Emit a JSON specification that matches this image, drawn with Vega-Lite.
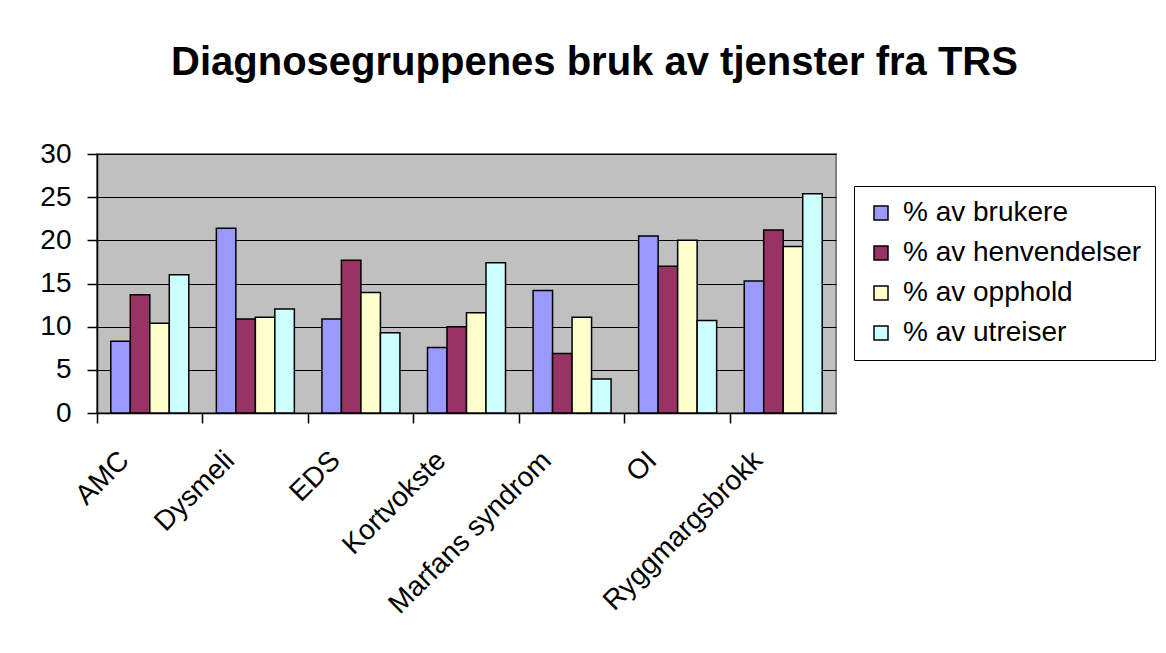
{
  "$schema": "https://vega.github.io/schema/vega-lite/v6.json",
  "autosize": {"type": "none"},
  "padding": {"left": 97, "top": 154, "right": 330, "bottom": 240},
  "width": 739,
  "height": 259,
  "background": "white",
  "title": {
    "text": "Diagnosegruppenes bruk av tjenster fra TRS",
    "font": "Liberation Sans",
    "fontSize": 40,
    "fontWeight": "bold",
    "color": "black",
    "anchor": "middle",
    "frame": "group",
    "baseline": "alphabetic",
    "dx": 128,
    "offset": 25
  },
  "data": {
    "values": [
      {"gruppe": "AMC", "serie": "% av brukere", "verdi": 8.3},
      {"gruppe": "AMC", "serie": "% av henvendelser", "verdi": 13.7},
      {"gruppe": "AMC", "serie": "% av opphold", "verdi": 10.4},
      {"gruppe": "AMC", "serie": "% av utreiser", "verdi": 16.0},
      {"gruppe": "Dysmeli", "serie": "% av brukere", "verdi": 21.4},
      {"gruppe": "Dysmeli", "serie": "% av henvendelser", "verdi": 10.9},
      {"gruppe": "Dysmeli", "serie": "% av opphold", "verdi": 11.1},
      {"gruppe": "Dysmeli", "serie": "% av utreiser", "verdi": 12.05},
      {"gruppe": "EDS", "serie": "% av brukere", "verdi": 10.9},
      {"gruppe": "EDS", "serie": "% av henvendelser", "verdi": 17.7},
      {"gruppe": "EDS", "serie": "% av opphold", "verdi": 13.95},
      {"gruppe": "EDS", "serie": "% av utreiser", "verdi": 9.3},
      {"gruppe": "Kortvokste", "serie": "% av brukere", "verdi": 7.6},
      {"gruppe": "Kortvokste", "serie": "% av henvendelser", "verdi": 10.0},
      {"gruppe": "Kortvokste", "serie": "% av opphold", "verdi": 11.6},
      {"gruppe": "Kortvokste", "serie": "% av utreiser", "verdi": 17.4},
      {"gruppe": "Marfans syndrom", "serie": "% av brukere", "verdi": 14.2},
      {"gruppe": "Marfans syndrom", "serie": "% av henvendelser", "verdi": 6.9},
      {"gruppe": "Marfans syndrom", "serie": "% av opphold", "verdi": 11.1},
      {"gruppe": "Marfans syndrom", "serie": "% av utreiser", "verdi": 3.95},
      {"gruppe": "OI", "serie": "% av brukere", "verdi": 20.5},
      {"gruppe": "OI", "serie": "% av henvendelser", "verdi": 17.0},
      {"gruppe": "OI", "serie": "% av opphold", "verdi": 20.0},
      {"gruppe": "OI", "serie": "% av utreiser", "verdi": 10.7},
      {"gruppe": "Ryggmargsbrokk", "serie": "% av brukere", "verdi": 15.3},
      {"gruppe": "Ryggmargsbrokk", "serie": "% av henvendelser", "verdi": 21.2},
      {"gruppe": "Ryggmargsbrokk", "serie": "% av opphold", "verdi": 19.3},
      {"gruppe": "Ryggmargsbrokk", "serie": "% av utreiser", "verdi": 25.4}
    ]
  },
  "mark": {"type": "bar", "stroke": "black", "strokeWidth": 1.5},
  "encoding": {
    "x": {
      "field": "gruppe",
      "type": "nominal",
      "sort": null,
      "scale": {"paddingInner": 0, "paddingOuter": 0},
      "axis": {
        "title": null,
        "labelAngle": -45,
        "labelAlign": "right",
        "labelBaseline": "middle",
        "labelFont": "Liberation Sans",
        "labelFontSize": 28,
        "labelColor": "black",
        "labelLimit": 400,
        "domainColor": "black",
        "domainWidth": 1.5,
        "tickColor": "black",
        "tickWidth": 1.5,
        "tickSize": 10,
        "bandPosition": 0,
        "labelOffset": -25,
        "labelPadding": 33
      }
    },
    "xOffset": {"field": "serie", "type": "nominal", "scale": {"paddingInner": 0, "paddingOuter": 0.707}},
    "y": {
      "field": "verdi",
      "type": "quantitative",
      "scale": {"domain": [0, 30], "nice": false},
      "axis": {
        "title": null,
        "values": [0, 5, 10, 15, 20, 25, 30],
        "labelFont": "Liberation Sans",
        "labelFontSize": 28,
        "labelColor": "black",
        "labelPadding": 16,
        "domainColor": "black",
        "domainWidth": 1.5,
        "tickColor": "black",
        "tickWidth": 1.5,
        "tickSize": 10,
        "grid": true,
        "gridColor": "black",
        "gridWidth": 1.2
      }
    },
    "color": {
      "field": "serie",
      "type": "nominal",
      "scale": {
        "domain": ["% av brukere", "% av henvendelser", "% av opphold", "% av utreiser"],
        "range": ["#9999FF", "#993366", "#FFFFCC", "#CCFFFF"]
      },
      "legend": {
        "title": null,
        "orient": "none",
        "legendX": 757,
        "legendY": 32,
        "direction": "vertical",
        "symbolType": "square",
        "symbolSize": 196,
        "symbolStrokeColor": "black",
        "symbolStrokeWidth": 1.5,
        "labelFont": "Liberation Sans",
        "labelFontSize": 28,
        "labelColor": "black",
        "labelOffset": 8,
        "rowPadding": 12,
        "padding": 13,
        "strokeColor": "black",
        "fillColor": "white",
        "labelLimit": 400
      }
    }
  },
  "config": {
    "view": {"fill": "#C0C0C0", "stroke": "#808080", "strokeWidth": 2}
  }
}
